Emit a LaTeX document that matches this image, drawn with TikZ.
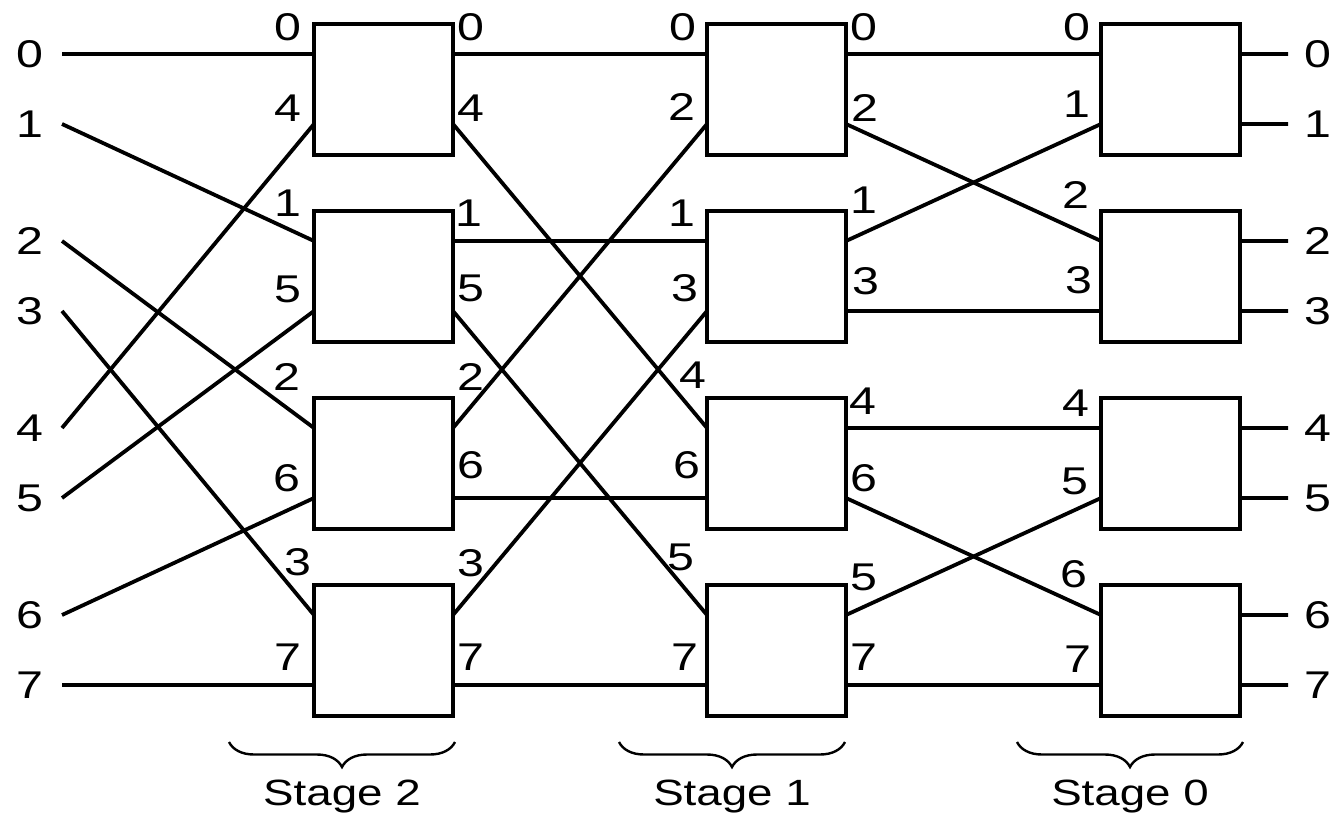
\documentclass[tikz,border=0pt]{standalone}
\usepackage{fontspec}
\setmainfont{Liberation Sans}[FakeStretch=1.25]
\usetikzlibrary{decorations.pathreplacing,calc}

\begin{document}
\begin{tikzpicture}[x=0.5mm, y=-0.5mm,
  box/.style={draw, line width=2mm, minimum width=69.5mm, minimum height=65.5mm,
              inner sep=0pt, outer sep=0pt},
  wire/.style={line width=1.9mm},
  lab/.style={font=\fontsize{55}{60}\selectfont, inner sep=0pt},
  caption/.style={font=\fontsize{52}{60}\selectfont, inner sep=0pt},
  stagebrace/.style={decorate, decoration={brace, amplitude=12.5mm}, line width=1.2mm},
]
\useasboundingbox (0,0) rectangle (1337,822);

% switching boxes of the three stages, with their port coordinates
\foreach \s/\x in {2/312, 1/705, 0/1099}
  \foreach \b/\t in {1/22, 2/209, 3/396, 4/583} {
    \node[box] (s\s-\b) at (\x+71.5, \t+67.5) {};
    \coordinate (s\s-\b-ia) at ($(s\s-\b.north west)+(0,30)$);
    \coordinate (s\s-\b-ib) at ($(s\s-\b.north west)+(0,100)$);
    \coordinate (s\s-\b-oa) at ($(s\s-\b.north east)+(0,30)$);
    \coordinate (s\s-\b-ob) at ($(s\s-\b.north east)+(0,100)$);
  }

% network inputs and outputs
\foreach \k/\y in {0/54, 1/124, 2/241, 3/311, 4/428, 5/498, 6/615, 7/685} {
  \coordinate (in\k) at (62, \y);
  \node[lab] (inlab\k) at (30, \y) {\k};
  \coordinate (out\k) at (1288, \y);
  \node[lab] (outlab\k) at (1318, \y) {\k};
}

% inputs into stage 2
\foreach \a/\b in {in0/s2-1-ia, in1/s2-2-ia, in2/s2-3-ia, in3/s2-4-ia,
                   in4/s2-1-ib, in5/s2-2-ib, in6/s2-3-ib, in7/s2-4-ib}
  \draw[wire] (\a) -- (\b);

% stage 2 to stage 1
\foreach \a/\b in {s2-1-oa/s1-1-ia, s2-1-ob/s1-3-ia, s2-2-oa/s1-2-ia, s2-2-ob/s1-4-ia,
                   s2-3-oa/s1-1-ib, s2-3-ob/s1-3-ib, s2-4-oa/s1-2-ib, s2-4-ob/s1-4-ib}
  \draw[wire] (\a) -- (\b);

% stage 1 to stage 0
\foreach \a/\b in {s1-1-oa/s0-1-ia, s1-1-ob/s0-2-ia, s1-2-oa/s0-1-ib, s1-2-ob/s0-2-ib,
                   s1-3-oa/s0-3-ia, s1-3-ob/s0-4-ia, s1-4-oa/s0-3-ib, s1-4-ob/s0-4-ib}
  \draw[wire] (\a) -- (\b);

% stage 0 to outputs
\foreach \b/\k in {1/0, 2/2, 3/4, 4/6}
  \draw[wire] (s0-\b-oa) -- (out\k);
\foreach \b/\k in {1/1, 2/3, 3/5, 4/7}
  \draw[wire] (s0-\b-ob) -- (out\k);

% port numbers
\foreach \d/\x/\y [count=\i] in {0/288/27, 4/288/108, 1/288/203, 5/288/289,
                                 2/287/377, 6/287/478, 3/298/562, 7/288/657}
  \node[lab] (s2in\i) at (\x,\y) {\d};
\foreach \d/\x/\y [count=\i] in {0/471/27, 4/471/108, 1/469/213, 5/471/288,
                                 2/471/377, 6/471/465, 3/471/563, 7/471/657}
  \node[lab] (s2out\i) at (\x,\y) {\d};
\foreach \d/\x/\y [count=\i] in {0/683/27, 2/682/107, 1/682/213, 3/685/288,
                                 4/693/375, 6/687/465, 5/681/557, 7/685/657}
  \node[lab] (s1in\i) at (\x,\y) {\d};
\foreach \d/\x/\y [count=\i] in {0/864/27, 2/865/108, 1/864/200, 3/866/281,
                                 4/863/401, 6/864/478, 5/864/577, 7/864/657}
  \node[lab] (s1out\i) at (\x,\y) {\d};
\foreach \d/\x/\y [count=\i] in {0/1077/27, 1/1077/104, 2/1076/195, 3/1079/280,
                                 4/1076/403, 5/1075/481, 6/1074/574, 7/1078/659}
  \node[lab] (s0in\i) at (\x,\y) {\d};

% stage braces and captions
\foreach \n/\l/\r in {2/229/455, 1/619/845, 0/1017/1243} {
  \draw[stagebrace] (\r,742) -- (\l,742);
  \node[caption] (stage\n) at ({(\l+\r)/2}, 797) {Stage \n};
}
\end{tikzpicture}
\end{document}
